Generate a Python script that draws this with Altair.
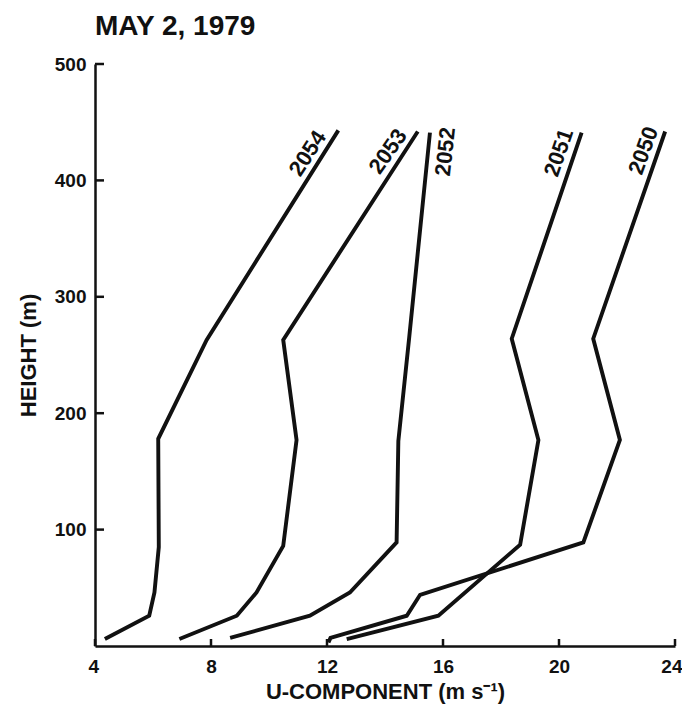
import math
import altair as alt
import pandas as pd

# ---------------- data ----------------
series_names = ["2054", "2053", "2052", "2051", "2050"]

u_2054 = [4.34, 5.87, 6.05, 6.20, 6.18, 7.85, 12.39]
h_2054 = [6, 26, 46, 85, 178, 263, 443]

u_2053 = [6.91, 8.89, 9.57, 10.49, 10.95, 10.49, 15.13]
h_2053 = [6, 26, 46, 86, 177, 263, 442]

u_2052 = [8.66, 11.41, 12.79, 14.40, 14.46, 14.83, 15.55]
h_2052 = [7, 26, 46, 89, 176, 264, 441]

u_2051 = [12.68, 15.84, 18.66, 19.29, 18.37, 20.78]
h_2051 = [6, 26, 87, 177, 264, 441]

u_2050 = [12.05, 12.12, 14.75, 15.21, 20.84, 22.10, 21.18, 23.66]
h_2050 = [3, 7, 26, 44, 89, 177, 264, 442]

x_ticks = [4, 8, 12, 16, 20, 24]
y_ticks = [100, 200, 300, 400, 500]

title_text = "MAY 2, 1979"
x_title = "U-COMPONENT (m s\u207b\u00b9)"
y_title = "HEIGHT (m)"

# ---------------- build tables ----------------
series_u = {"2054": u_2054, "2053": u_2053, "2052": u_2052, "2051": u_2051, "2050": u_2050}
series_h = {"2054": h_2054, "2053": h_2053, "2052": h_2052, "2051": h_2051, "2050": h_2050}

rows = []
for name in series_names:
    for i, (u, h) in enumerate(zip(series_u[name], series_h[name])):
        rows.append({"series": name, "u": u, "h": h, "i": i})
df = pd.DataFrame(rows)

tips = df.sort_values("i").groupby("series", as_index=False).last()

# ---------------- styling ----------------
FONT = "Liberation Sans"
W, H = 580, 582
INK = "#111111"

xs = alt.Scale(domain=[4, 24], nice=False, zero=False)
ys = alt.Scale(domain=[0, 500], nice=False, zero=False)

x_axis = alt.Axis(values=x_ticks, title=x_title, grid=False, ticks=False,
                  domainColor=INK, domainWidth=2.5,
                  labelFont=FONT, labelFontSize=19, labelFontWeight="bold",
                  labelColor=INK, labelPadding=11,
                  labelFlush=True, labelFlushOffset=7,
                  titleFont=FONT, titleFontSize=22, titleFontWeight="bold",
                  titleColor=INK, titlePadding=5)
y_axis = alt.Axis(values=y_ticks, title=y_title, grid=False, ticks=False,
                  domainColor=INK, domainWidth=2.5,
                  labelFont=FONT, labelFontSize=19, labelFontWeight="bold",
                  labelColor=INK, labelPadding=9, labelFlush=False,
                  titleFont=FONT, titleFontSize=22, titleFontWeight="bold",
                  titleColor=INK, titlePadding=14)

lines = alt.Chart(df).mark_line(color=INK, strokeWidth=3.9, strokeJoin="miter").encode(
    x=alt.X("u:Q", scale=xs, axis=x_axis),
    y=alt.Y("h:Q", scale=ys, axis=y_axis),
    detail="series:N",
    order="i:Q",
)

x_tick_rules = alt.Chart(pd.DataFrame({"v": x_ticks})).mark_rule(color=INK, strokeWidth=2.5).encode(
    x=alt.X("v:Q", scale=xs, axis=x_axis),
    y=alt.value(H),
    y2=alt.value(H - 7),
)
y_tick_rules = alt.Chart(pd.DataFrame({"v": y_ticks})).mark_rule(color=INK, strokeWidth=2.5).encode(
    y=alt.Y("v:Q", scale=ys, axis=y_axis),
    x=alt.value(0),
    x2=alt.value(9),
)

# label placement: screen offset of label centre from the line tip, and angle
label_style = {
    "2054": (-30.6, 23.0, -57),
    "2053": (-29.7, 20.0, -55),
    "2052": (15.5, 19.0, -84),
    "2051": (-22.7, 20.0, -71),
    "2050": (-21.7, 19.0, -70),
}

label_layers = []
for name in series_names:
    ox, oy, ang = label_style[name]
    a = math.radians(ang)
    dx = ox * math.cos(a) + oy * math.sin(a)
    dy = -ox * math.sin(a) + oy * math.cos(a)
    layer = alt.Chart(tips[tips["series"] == name]).mark_text(
        angle=ang % 360, dx=dx, dy=dy, align="center", baseline="middle",
        font=FONT, fontSize=22, fontWeight="bold", color=INK,
    ).encode(
        x=alt.X("u:Q", scale=xs, axis=x_axis),
        y=alt.Y("h:Q", scale=ys, axis=y_axis),
        text="series:N",
    )
    label_layers.append(layer)

chart = alt.layer(lines, x_tick_rules, y_tick_rules, *label_layers).properties(
    width=W, height=H,
    title=alt.TitleParams(title_text, anchor="start", frame="group", font=FONT,
                          fontSize=28, fontWeight="bold", color=INK, offset=14),
    padding={"left": 87, "top": 56, "right": 7, "bottom": 58},
    autosize=alt.AutoSizeParams(type="none"),
    background="white",
).configure_view(stroke=None)

chart.save("out.html", embed_options={"renderer": "svg", "actions": False})
